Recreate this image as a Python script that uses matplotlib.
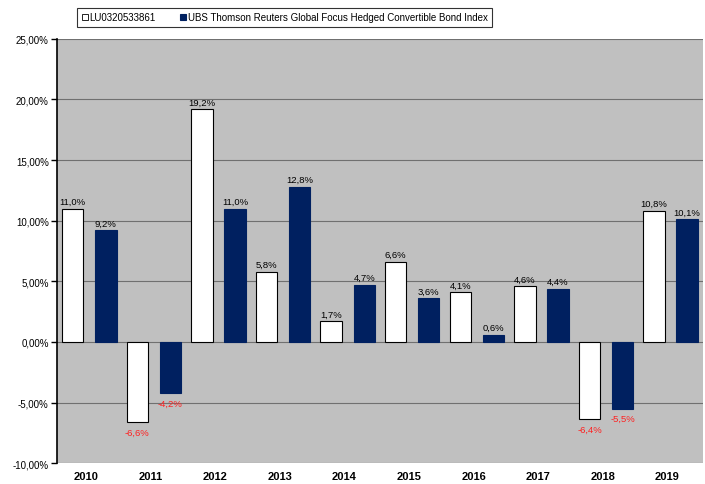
import matplotlib.pyplot as plt
import numpy as np

plt.rcParams['font.family'] = ['Liberation Sans', 'DejaVu Sans']

years = ['2010', '2011', '2012', '2013', '2014', '2015', '2016', '2017', '2018', '2019']
fund = [11.0, -6.6, 19.2, 5.8, 1.7, 6.6, 4.1, 4.6, -6.4, 10.8]
index = [9.2, -4.2, 11.0, 12.8, 4.7, 3.6, 0.6, 4.4, -5.5, 10.1]
fund_name = 'LU0320533861'
index_name = 'UBS Thomson Reuters Global Focus Hedged Convertible Bond Index'

fig = plt.figure(figsize=(7.05, 4.85), dpi=100)
ax = fig.add_axes([0.0809, 0.043, 0.9161, 0.875])
ax.set_facecolor('#c0c0c0')

x = np.arange(len(years))
w = 0.33
b1 = ax.bar(x - 0.256, fund, w, color='white', edgecolor='black', linewidth=0.8,
            label=fund_name, zorder=3)
b2 = ax.bar(x + 0.256, index, w, color='#002060', edgecolor='#002060', linewidth=0.8,
            label=index_name, zorder=3)

def fmt(v):
    return ('%.1f%%' % v).replace('.', ',')

for bars, vals in ((b1, fund), (b2, index)):
    for r, v in zip(bars, vals):
        cx = r.get_x() + r.get_width() / 2
        if v >= 0:
            ax.annotate(fmt(v), (cx, v), xytext=(0, 2), textcoords='offset points',
                        ha='center', va='bottom', fontsize=6.8, color='black')
        else:
            ax.annotate(fmt(v), (cx, v), xytext=(0, -4), textcoords='offset points',
                        ha='center', va='top', fontsize=6.8, color='#ff2020')

ax.set_xlim(-0.5, len(years) - 0.5)
ax.set_ylim(-10, 25)
yt = np.arange(-10, 26, 5)
ax.set_yticks(yt)
ax.set_yticklabels([('%.2f%%' % v).replace('.', ',') for v in yt], fontsize=7)
ax.set_xticks(x - 0.05)
ax.set_xticklabels(years, fontsize=8, fontweight='bold')
ax.tick_params(axis='x', length=0, pad=6)
ax.tick_params(axis='y', length=4, width=1, direction='out', pad=2)
ax.yaxis.grid(True, color='#707070', linewidth=0.8, zorder=0)
for s in ('top', 'right', 'bottom'):
    ax.spines[s].set_visible(False)
ax.spines['left'].set_linewidth(1.2)

leg = fig.legend(loc='center', bbox_to_anchor=(0.404, 0.962), ncol=2, fontsize=7,
                 frameon=True, fancybox=False, edgecolor='black', handlelength=0.6,
                 handleheight=0.6, handletextpad=0.2, columnspacing=2.5,
                 borderpad=0.45, borderaxespad=0)
leg.get_frame().set_linewidth(0.8)
leg.legend_handles[0].set_linewidth(0.6)

fig.savefig('out.png', dpi=100)
